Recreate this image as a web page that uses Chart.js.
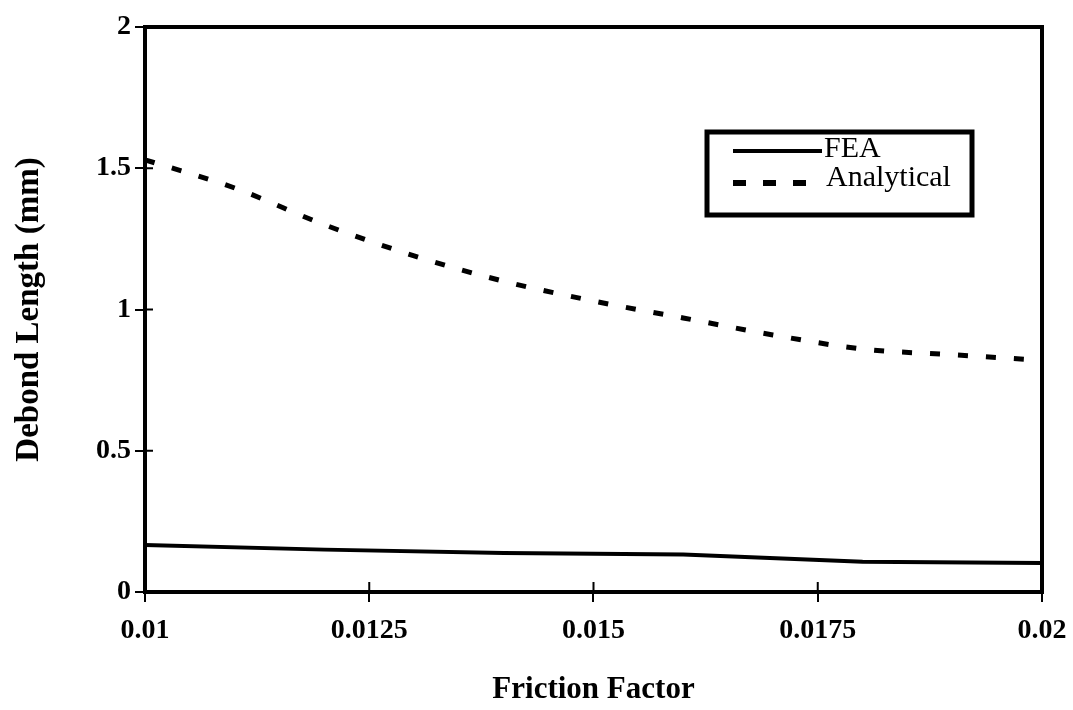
<!DOCTYPE html>
<html>
<head>
<meta charset="utf-8">
<script src="https://cdn.jsdelivr.net/npm/chart.js@4.4.1/dist/chart.umd.min.js"></script>
<style>
  html, body { margin: 0; padding: 0; background: #ffffff; }
  #wrap { width: 1073px; height: 710px; }
</style>
</head>
<body>
<div id="wrap"><canvas id="debondChart" width="1073" height="710"></canvas></div>
<script>
// data
const feaFriction = [0.010, 0.012, 0.014, 0.016, 0.018, 0.020];
const feaDebond = [0.166, 0.150, 0.138, 0.133, 0.107, 0.103];

const anaFriction = [0.010, 0.011, 0.012, 0.013, 0.014, 0.015, 0.016, 0.017, 0.018, 0.019, 0.020];
const anaDebond = [1.53, 1.43, 1.30, 1.19, 1.10, 1.03, 0.97, 0.91, 0.86, 0.84, 0.82];

const xTickValues = [0.01, 0.0125, 0.015, 0.0175, 0.02];
const xTickLabels = ['0.01', '0.0125', '0.015', '0.0175', '0.02'];
const yTickValues = [0, 0.5, 1, 1.5, 2];
const yTickLabels = ['0', '0.5', '1', '1.5', '2'];

const serif = "'Liberation Serif', 'Times New Roman', serif";

function toPoints(xs, ys) {
    return xs.map((x, i) => ({ x: x, y: ys[i] }));
}

// frame, inner tick marks and the boxed legend
const framePlugin = {
    id: 'framePlugin',
    afterDraw(chart) {
        const ctx = chart.ctx;
        const a = chart.chartArea;
        const xs = chart.scales.x;
        const ys = chart.scales.y;
        ctx.save();
        ctx.strokeStyle = '#000';
        ctx.lineWidth = 4;
        ctx.strokeRect(a.left, a.top, a.right - a.left, a.bottom - a.top);

        // tick marks cross the axis
        ctx.lineWidth = 2;
        ctx.beginPath();
        xTickValues.forEach(v => {
            const px = xs.getPixelForValue(v);
            ctx.moveTo(px, a.bottom);
            ctx.lineTo(px, a.bottom - 10);
        });
        yTickValues.forEach(v => {
            const py = ys.getPixelForValue(v);
            ctx.moveTo(a.left, py);
            ctx.lineTo(a.left + 8, py);
        });
        ctx.stroke();

        // legend
        ctx.lineWidth = 5;
        ctx.strokeRect(707, 132, 265, 83);
        ctx.font = '30px ' + serif;
        ctx.fillStyle = '#000';
        ctx.textBaseline = 'middle';
        ctx.textAlign = 'left';

        ctx.lineWidth = 4;
        ctx.setLineDash([]);
        ctx.beginPath();
        ctx.moveTo(733, 151);
        ctx.lineTo(822, 151);
        ctx.stroke();
        ctx.fillText(chart.data.datasets[0].label, 824, 149);

        ctx.lineWidth = 6;
        ctx.setLineDash([13, 17]);
        ctx.beginPath();
        ctx.moveTo(733, 183);
        ctx.lineTo(808, 183);
        ctx.stroke();
        ctx.setLineDash([]);
        ctx.fillText(chart.data.datasets[1].label, 826, 178);
        ctx.restore();
    }
};

const ctx = document.getElementById('debondChart').getContext('2d');

new Chart(ctx, {
    type: 'line',
    data: {
        datasets: [{
            label: 'FEA',
            data: toPoints(feaFriction, feaDebond),
            borderColor: '#000',
            borderWidth: 4,
            pointRadius: 0,
            tension: 0,
            fill: false
        }, {
            label: 'Analytical',
            data: toPoints(anaFriction, anaDebond),
            borderColor: '#000',
            borderWidth: 5,
            borderDash: [10, 18],
            borderCapStyle: 'butt',
            pointRadius: 0,
            cubicInterpolationMode: 'monotone',
            fill: false
        }]
    },
    options: {
        responsive: false,
        animation: false,
        layout: {
            padding: { top: 27, right: 31, bottom: 0, left: 0 }
        },
        plugins: {
            legend: { display: false },
            tooltip: { enabled: false }
        },
        scales: {
            x: {
                type: 'linear',
                min: 0.01,
                max: 0.02,
                afterBuildTicks: function(scale) {
                    scale.ticks = xTickValues.map(v => ({ value: v }));
                },
                afterFit: function(scale) {
                    scale.height = 118;
                    scale.paddingLeft = 0;
                    scale.paddingRight = 0;
                },
                ticks: {
                    color: '#000',
                    padding: 12,
                    maxRotation: 0,
                    autoSkip: false,
                    font: { family: serif, size: 28, weight: 'bold' },
                    callback: function(value) {
                        const i = xTickValues.findIndex(v => Math.abs(v - value) < 1e-9);
                        return i >= 0 ? xTickLabels[i] : '';
                    }
                },
                grid: {
                    drawOnChartArea: false,
                    drawTicks: true,
                    tickLength: 10,
                    color: '#000',
                    lineWidth: 2
                },
                border: { display: true, color: '#000', width: 4 },
                title: {
                    display: true,
                    text: 'Friction Factor',
                    color: '#000',
                    font: { family: serif, size: 31, weight: 'bold' },
                    padding: { top: 0, bottom: 1 }
                }
            },
            y: {
                type: 'linear',
                min: 0,
                max: 2,
                afterBuildTicks: function(scale) {
                    scale.ticks = yTickValues.map(v => ({ value: v }));
                },
                afterFit: function(scale) {
                    scale.width = 145;
                    scale.paddingTop = 0;
                    scale.paddingBottom = 0;
                },
                ticks: {
                    color: '#000',
                    padding: 4,
                    autoSkip: false,
                    font: { family: serif, size: 28, weight: 'bold' },
                    callback: function(value) {
                        const i = yTickValues.findIndex(v => Math.abs(v - value) < 1e-9);
                        return i >= 0 ? yTickLabels[i] : '';
                    }
                },
                grid: {
                    drawOnChartArea: false,
                    drawTicks: true,
                    tickLength: 10,
                    color: '#000',
                    lineWidth: 2
                },
                border: { display: true, color: '#000', width: 4 },
                title: {
                    display: true,
                    text: 'Debond Length (mm)',
                    color: '#000',
                    font: { family: serif, size: 33, weight: 'bold' },
                    padding: { top: 10, bottom: 0 }
                }
            }
        }
    },
    plugins: [framePlugin]
});
</script>
</body>
</html>
